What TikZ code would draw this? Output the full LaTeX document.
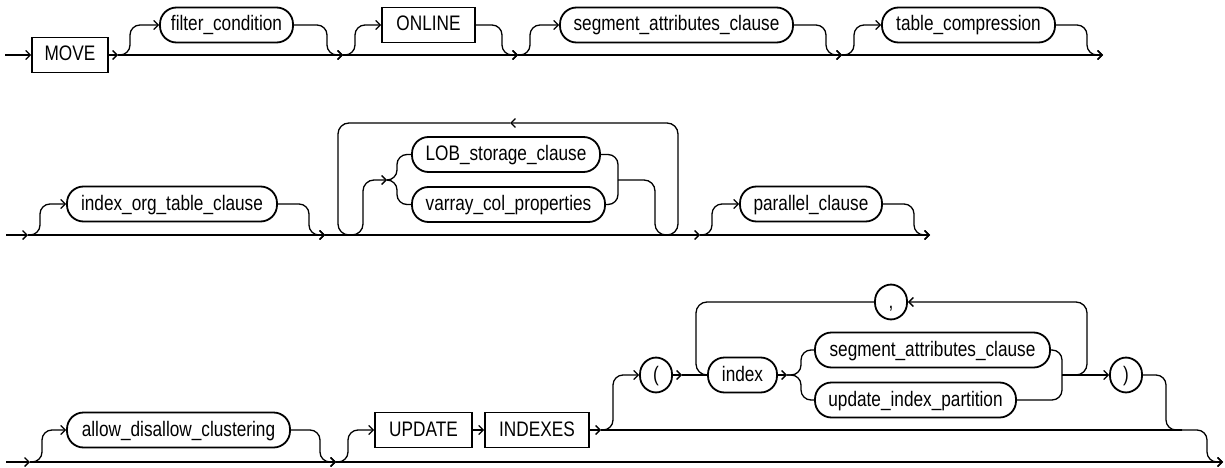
\documentclass[tikz,border=0pt]{standalone}
\usepackage{fontspec}
\setmainfont[FakeStretch=0.82]{Liberation Sans}
\usetikzlibrary{arrows.meta}
\tikzset{
  rail/.style={line width=1.3pt, rounded corners=10pt},
  tip/.style={-{Straight Barb[length=4.5pt,width=9pt]}},
  kwbox/.style={draw, rectangle, sharp corners, line width=1.8pt, fill=white,
    minimum height=35pt, inner sep=0pt, text height=15pt, text depth=3pt},
  ntbox/.style={kwbox, rounded corners=16.5pt},
  rise/.style={to path={(\tikztostart) -- ([xshift=#1]\tikztostart) |- (\tikztotarget) \tikztonodes}},
  rise/.default=12pt,
  fall/.style={to path={(\tikztostart) -| ([xshift=-#1]\tikztotarget) -- (\tikztotarget) \tikztonodes}},
  fall/.default=16pt
}
\begin{document}
\begin{tikzpicture}[x=1pt, y=-1pt, font=\fontsize{21}{24}\selectfont]
  \useasboundingbox (0,0) rectangle (1225,468);
  % Fila 1: MOVE ... table_compression
  \coordinate (s1) at (5,55);   \coordinate (j1) at (118,55);
  \coordinate (j2) at (343,55); \coordinate (j3) at (518,55);
  \coordinate (j4) at (842,55); \coordinate (e1) at (1103,55);
  \node[kwbox, minimum width=76] (move) at (70,55) {MOVE};
  \node[ntbox, minimum width=133] (filter) at (226.5,25) {filter\_condition};
  \node[kwbox, minimum width=93] (online) at (428.5,25) {ONLINE};
  \node[ntbox, minimum width=233] (segA) at (676.5,25) {segment\_attributes\_clause};
  \node[ntbox, minimum width=173] (tcomp) at (968.5,25) {table\_compression};
  \draw[rail,tip] (s1) -- (move);
  \draw[rail,tip] (move) -- (j1);
  \draw[rail,tip] (j1) -- (j2);
  \draw[rail,tip] (j2) -- (j3);
  \draw[rail,tip] (j3) -- (j4);
  \draw[rail,tip] (j4) -- (e1);
  \draw[rail,tip] (j1) to[rise] (filter);
  \draw[rail,tip] (filter) to[fall] (j2);
  \draw[rail,tip] (j2) to[rise] (online);
  \draw[rail,tip] (online) to[fall] (j3);
  \draw[rail,tip] (j3) to[rise] (segA);
  \draw[rail,tip] (segA) to[fall] (j4);
  \draw[rail,tip] (j4) to[rise] (tcomp);
  \draw[rail,tip] (tcomp) to[fall] (e1);
  % Fila 2: index_org_table_clause, bucle LOB / varray, parallel_clause
  \coordinate (s2) at (6,235);   \coordinate (j5) at (28,235);
  \coordinate (j6) at (325,235); \coordinate (j7) at (700,235);
  \coordinate (e2) at (930,235);
  \coordinate (gin) at (387,180); \coordinate (gout) at (618,180);
  \coordinate (lq1) at (655,235); \coordinate (lq2) at (678,123);
  \coordinate (la) at (510,123);  \coordinate (lq3) at (338,235);
  \coordinate (lq4) at (363,180);
  \node[ntbox, minimum width=210] (orgt) at (172,204) {index\_org\_table\_clause};
  \node[ntbox, minimum width=188] (lob) at (506,154.5) {LOB\_storage\_clause};
  \node[ntbox, minimum width=193] (varr) at (508.5,204.5) {varray\_col\_properties};
  \node[ntbox, minimum width=142] (par) at (811,204) {parallel\_clause};
  \draw[rail,tip] (s2) -- (j5);
  \draw[rail,tip] (j5) -- (j6);
  \draw[rail,tip] (j6) -- (j7);
  \draw[rail,tip] (j7) -- (e2);
  \draw[rail,tip] (j5) to[rise] (orgt);
  \draw[rail,tip] (orgt) to[fall] (j6);
  \draw[rail] (gin) to[rise=10pt] (lob);
  \draw[rail] (gin) to[rise=10pt] (varr);
  \draw[rail] (lob) -| (gout);
  \draw[rail] (varr) -| (gout);
  \draw[rail,rounded corners=11pt,tip] (gout) -| (lq1) -| (lq2) -- (la);
  \draw[rail,rounded corners=11pt,tip] (la) -| (lq3) -| (lq4) -- (gin);
  \draw[rail,tip] (j7) to[rise] (par);
  \draw[rail,tip] (par) to[fall] (e2);
  % Fila 3: allow_disallow_clustering, UPDATE INDEXES ( index ... )
  \coordinate (s3) at (6,462);    \coordinate (j8) at (30,462);
  \coordinate (j9) at (336,462);  \coordinate (j10) at (601,430);
  \coordinate (a1) at (682,375);  \coordinate (a2) at (787,375);
  \coordinate (m2) at (1062,375); \coordinate (lr) at (1087,302);
  \coordinate (ll) at (696,375);  \coordinate (k3) at (1182,430);
  \coordinate (e3) at (1223,462);
  \node[ntbox, minimum width=223] (allow) at (178.5,430) {allow\_disallow\_clustering};
  \node[kwbox, minimum width=97] (upd) at (423.5,430) {UPDATE};
  \node[kwbox, minimum width=104] (idx) at (537,430) {INDEXES};
  \node[ntbox, minimum width=32] (lp) at (656,375) {(};
  \node[ntbox, minimum width=69] (index) at (742.5,375) {index};
  \node[ntbox, minimum width=235] (segB) at (932.5,350) {segment\_attributes\_clause};
  \node[ntbox, minimum width=201] (uip) at (915.5,400) {update\_index\_partition};
  \node[ntbox, minimum width=32] (rp) at (1126,375) {)};
  \node[ntbox, minimum width=32] (comma) at (891,302) {,};
  \draw[rail,tip] (s3) -- (j8);
  \draw[rail,tip] (j8) -- (j9);
  \draw[rail,tip] (j9) -- (e3);
  \draw[rail,tip] (j8) to[rise] (allow);
  \draw[rail,tip] (allow) to[fall] (j9);
  \draw[rail,tip] (j9) to[rise] (upd);
  \draw[rail,tip] (upd) -- (idx);
  \draw[rail,tip] (idx) -- (j10);
  \draw[rail,tip] (j10) to[rise] (lp);
  \draw[rail,tip] (lp) -- (a1);
  \draw[rail] (a1) -- (index);
  \draw[rail,tip] (index) -- (a2);
  \draw[rail] (a2) to[rise=14pt] (segB);
  \draw[rail] (a2) to[rise=14pt] (uip);
  \draw[rail] (segB) -| (m2);
  \draw[rail] (uip) -| (m2);
  \draw[rail,tip] (m2) -- (rp);
  \draw[rail,rounded corners=11pt,tip] (m2) -| (lr) -- (comma);
  \draw[rail,rounded corners=11pt] (comma) -| (ll) -- (index);
  \draw[rail] (j10) -- (k3);
  \draw[rail] (rp) to[fall] (k3);
  \draw[rail,tip] (k3) to[fall] (e3);
\end{tikzpicture}
\end{document}
